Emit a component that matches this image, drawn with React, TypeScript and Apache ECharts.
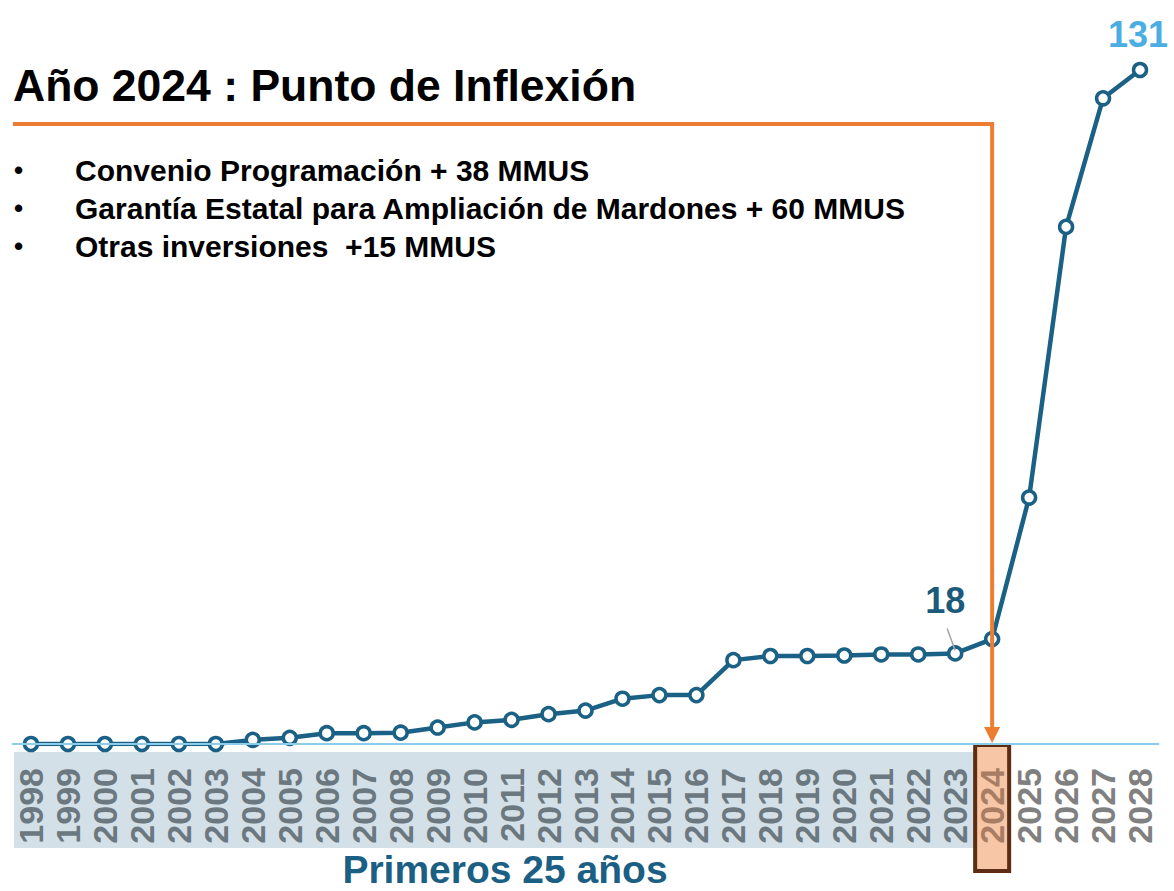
import React, { useEffect, useRef } from 'react';
import * as echarts from 'echarts';

const years = ['1998', '1999', '2000', '2001', '2002', '2003', '2004', '2005', '2006', '2007', '2008', '2009', '2010', '2011', '2012', '2013', '2014', '2015', '2016', '2017', '2018', '2019', '2020', '2021', '2022', '2023', '2024', '2025', '2026', '2027', '2028'];
const values = [0, 0, 0, 0, 0, 0, 0.8, 1.2, 2.1, 2.1, 2.2, 3.2, 4.2, 4.7, 5.8, 6.5, 8.8, 9.5, 9.5, 16.3, 17.1, 17.1, 17.2, 17.4, 17.4, 17.6, 20.4, 47.9, 100.5, 125.5, 131];
const titleText = 'Año 2024 : Punto de Inflexión';
const bulletItems = ['Convenio Programación + 38 MMUS', 'Garantía Estatal para Ampliación de Mardones + 60 MMUS', 'Otras inversiones  +15 MMUS'];
const footerText = 'Primeros 25 años';
const highlightYear = '2024';
const lastYear = '2028';
const markedYear = '2023';

export default function App() {
  const ref = useRef<HTMLDivElement>(null);
  useEffect(() => {
    const chart = echarts.init(ref.current!, null, { renderer: 'svg' });
    const LINE = '#1a6185';
    const hiIdx = years.indexOf(highlightYear);
    const data = values.map((v, i) => {
      const y = years[i];
      if (y === lastYear) return { value: v, label: { show: true, color: '#4aaee3', offset: [-2, -4] } };
      if (y === markedYear) return { value: v, label: { show: true, color: '#1b5a7a', offset: [-10, -22] } };
      return v;
    });
    chart.setOption({
      animation: false,
      grid: { left: 12.5, right: 15.5, top: 70, bottom: 147 },
      xAxis: {
        type: 'category',
        data: years,
        boundaryGap: true,
        z: 10,
        axisLine: { lineStyle: { color: '#8ccdec', width: 2 } },
        axisTick: { show: false },
        axisLabel: {
          rotate: 90,
          margin: 24,
          fontSize: 34,
          fontWeight: 'bold',
          fontFamily: 'Liberation Sans',
          interval: 0,
          color: (_v: any, idx: number) => (idx < hiIdx ? '#6c787f' : idx === hiIdx ? '#a97d63' : '#808080'),
        },
      },
      yAxis: { type: 'value', min: 0, max: 131, show: false },
      series: [
        {
          type: 'line',
          data,
          z: 5,
          symbol: 'circle',
          symbolSize: 13,
          lineStyle: { color: LINE, width: 4.5 },
          itemStyle: { color: '#ffffff', borderColor: LINE, borderWidth: 3.5 },
          label: {
            show: false,
            position: 'top',
            fontSize: 36,
            fontWeight: 'bold',
            fontFamily: 'Liberation Sans',
            formatter: (p: any) => String(Math.round(p.value)),
          },
        },
      ],
    });

    const hp = chart.convertToPixel({ gridIndex: 0 }, [highlightYear, 0]) as number[];
    const mp = chart.convertToPixel({ gridIndex: 0 }, [markedYear, values[years.indexOf(markedYear)]]) as number[];
    const cx = hp[0];
    const y0 = hp[1];
    const orange = '#ed7d31';
    const graphics: any[] = [
      { type: 'rect', z: 1, shape: { x: 14, y: y0 + 8, width: cx - 17 - 14, height: 96 }, style: { fill: '#d3e0e8' } },
      { type: 'rect', z: 2, shape: { x: cx - 17, y: y0 + 1, width: 34, height: 126 }, style: { fill: '#f6c6a6', stroke: '#5c2d12', lineWidth: 4 } },
      { type: 'polyline', z: 20, shape: { points: [[13, 124], [cx, 124], [cx, y0 - 16]] }, style: { stroke: orange, lineWidth: 4, fill: null } },
      { type: 'polygon', z: 20, shape: { points: [[cx - 8, y0 - 17], [cx + 8, y0 - 17], [cx, y0 - 1]] }, style: { fill: orange } },
      { type: 'line', z: 6, shape: { x1: mp[0] - 8, y1: mp[1] - 25, x2: mp[0], y2: mp[1] - 3 }, style: { stroke: '#a6a6a6', lineWidth: 1.5 } },
      { type: 'text', z: 20, x: 13, y: 85, style: { text: titleText, fill: '#000', fontSize: 44.5, fontWeight: 'bold', fontFamily: 'Liberation Sans', align: 'left', verticalAlign: 'middle' } },
      { type: 'text', z: 20, x: 505, y: 869, style: { text: footerText, fill: '#1b5f84', fontSize: 39, fontWeight: 'bold', fontFamily: 'Liberation Sans', align: 'center', verticalAlign: 'middle' } },
    ];
    bulletItems.forEach((t, i) => {
      const y = 170 + 38 * i;
      graphics.push({ type: 'text', z: 20, x: 14, y, style: { text: '•', fill: '#000', fontSize: 26, fontWeight: 'bold', fontFamily: 'Liberation Sans', align: 'left', verticalAlign: 'middle' } });
      graphics.push({ type: 'text', z: 20, x: 75, y, style: { text: t, fill: '#000', fontSize: 30, fontWeight: 'bold', fontFamily: 'Liberation Sans', align: 'left', verticalAlign: 'middle' } });
    });
    chart.setOption({ graphic: graphics });
    return () => chart.dispose();
  }, []);
  return <div ref={ref} style={{ position: 'absolute', left: 0, top: 0, width: 1174, height: 891 }} />;
}
